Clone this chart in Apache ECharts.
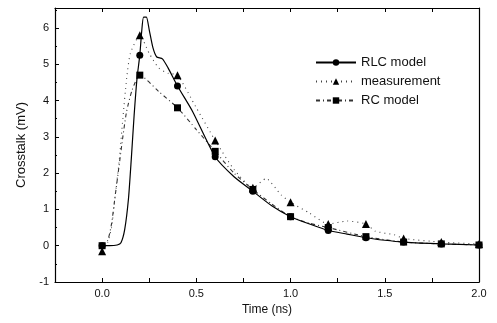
<!DOCTYPE html>
<html><head><meta charset="utf-8">
<script src="https://cdn.jsdelivr.net/npm/echarts@6/dist/echarts.min.js"></script>
<style>html,body{margin:0;padding:0;background:#fff}#c{width:497px;height:323px}</style>
</head><body><div id="c"></div>
<script>
// RLC model curve (solid)
const rlcX = [0.0, 0.04, 0.08, 0.1, 0.12, 0.14, 0.155, 0.17, 0.185, 0.2, 0.21, 0.22, 0.235, 0.25, 0.27, 0.29, 0.32, 0.35, 0.4, 0.48, 0.6, 0.7, 0.8, 0.9, 1.0, 1.1, 1.2, 1.3, 1.4, 1.5, 1.6, 1.8, 2.0];
const rlcY = [0.0, 0.0, 0.02, 0.08, 0.45, 1.3, 2.4, 3.6, 4.6, 5.25, 5.9, 6.3, 6.3, 5.95, 5.45, 5.2, 5.15, 4.9, 4.4, 3.7, 2.45, 1.9, 1.5, 1.1, 0.8, 0.6, 0.42, 0.32, 0.22, 0.15, 0.1, 0.05, 0.02];
// measurement curve (dotted)
const measX = [0.0, 0.03, 0.05, 0.07, 0.09, 0.11, 0.13, 0.15, 0.2, 0.25, 0.3, 0.35, 0.4, 0.5, 0.6, 0.7, 0.8, 0.87, 0.95, 1.0, 1.1, 1.2, 1.3, 1.4, 1.45, 1.55, 1.6, 1.8, 2.0];
const measY = [-0.15, 0.1, 0.5, 1.4, 2.3, 3.5, 4.6, 5.3, 5.8, 5.3, 4.9, 4.75, 4.7, 3.8, 2.9, 2.1, 1.6, 1.85, 1.4, 1.2, 0.9, 0.6, 0.68, 0.6, 0.4, 0.3, 0.2, 0.1, 0.05];
// RC model curve (dash-dot)
const rcX = [0.0, 0.03, 0.05, 0.07, 0.09, 0.11, 0.13, 0.16, 0.2, 0.3, 0.4, 0.5, 0.6, 0.7, 0.8, 0.9, 1.0, 1.1, 1.2, 1.4, 1.6, 1.8, 2.0];
const rcY = [0.0, 0.15, 0.6, 1.4, 2.2, 3.0, 3.7, 4.3, 4.7, 4.25, 3.8, 3.2, 2.6, 2.0, 1.55, 1.15, 0.8, 0.62, 0.5, 0.25, 0.1, 0.05, 0.02];
// marker positions (every 0.2 ns)
const markerX = [0.0, 0.2, 0.4, 0.6, 0.8, 1.0, 1.2, 1.4, 1.6, 1.8, 2.0];
const seriesNames = ['RLC model', 'measurement', 'RC model'];
const yTicks = [-1, 0, 1, 2, 3, 4, 5, 6];
const xTicks = [0.0, 0.5, 1.0, 1.5, 2.0];

function build(xs, ys) {
  return xs.map((x, i) => {
    const isMark = markerX.some(m => Math.abs(m - x) < 1e-6);
    return isMark ? { value: [x, ys[i]] } : { value: [x, ys[i]], symbol: 'none' };
  });
}
const FONT = 'Liberation Sans';
const chart = echarts.init(document.getElementById('c'), null, { renderer: 'canvas' });
const axisCommon = {
  axisLine: { show: true, onZero: false, lineStyle: { color: '#000', width: 1.2 } },
  splitLine: { show: false },
};
chart.setOption({
  animation: false,
  backgroundColor: '#fff',
  textStyle: { fontFamily: FONT },
  grid: { left: 55, right: 18, top: 8, bottom: 41, show: false },
  legend: {
    orient: 'vertical', left: 310, top: 51, itemWidth: 40, itemHeight: 8, itemGap: 6,
    data: seriesNames,
    textStyle: { fontFamily: FONT, fontSize: 13, color: '#111' }
  },
  xAxis: [{
    type: 'value', min: -0.25, max: 2.0, interval: 0.25,
    name: 'Time (ns)', nameLocation: 'middle', nameGap: 18,
    nameTextStyle: { fontFamily: FONT, fontSize: 12, color: '#111' },
    ...axisCommon,
    axisTick: { show: true, inside: true, length: 4, lineStyle: { color: '#000' } },
    axisLabel: { margin: 6, fontSize: 11, color: '#111', fontFamily: FONT,
      formatter: v => xTicks.some(t => Math.abs(t - v) < 1e-6) ? v.toFixed(1) : '' }
  }, {
    type: 'value', position: 'top', min: -0.25, max: 2.0, interval: 0.25,
    ...axisCommon,
    axisTick: { show: true, inside: true, length: 4, lineStyle: { color: '#000' } },
    axisLabel: { show: false }
  }],
  yAxis: [{
    type: 'value', min: -1, max: 6.55, interval: 1,
    name: 'Crosstalk (mV)', nameLocation: 'middle', nameGap: 27,
    nameTextStyle: { fontFamily: FONT, fontSize: 13, color: '#111' },
    ...axisCommon,
    axisTick: { show: true, inside: true, length: 4, lineStyle: { color: '#000' } },
    minorTick: { show: true, splitNumber: 2, length: 2, lineStyle: { color: '#000' } },
    axisLabel: { margin: 6, fontSize: 11, color: '#111', fontFamily: FONT, showMaxLabel: false,
      formatter: v => yTicks.includes(Math.round(v)) && Math.abs(v - Math.round(v)) < 1e-6 ? String(v) : '' }
  }, {
    type: 'value', position: 'right', min: -1, max: 6.55, interval: 1,
    ...axisCommon,
    axisTick: { show: false },
    axisLabel: { show: false }
  }],
  series: [{
    name: seriesNames[0], type: 'line', data: build(rlcX, rlcY),
    symbol: 'circle', symbolSize: 7, smooth: 0.2,
    lineStyle: { color: '#000', width: 1.2, type: 'solid' },
    itemStyle: { color: '#000' }, z: 5
  }, {
    name: seriesNames[1], type: 'line', data: build(measX, measY),
    symbol: 'triangle', symbolSize: 8, smooth: 0.2,
    lineStyle: { color: '#444', width: 1.1, type: [1, 4] },
    itemStyle: { color: '#000' }, z: 4
  }, {
    name: seriesNames[2], type: 'line', data: build(rcX, rcY),
    symbol: 'rect', symbolSize: 7, smooth: 0.2,
    lineStyle: { color: '#333', width: 1.1, type: [4, 3, 1, 3] },
    itemStyle: { color: '#000' }, z: 3
  }]
});
</script></body></html>
